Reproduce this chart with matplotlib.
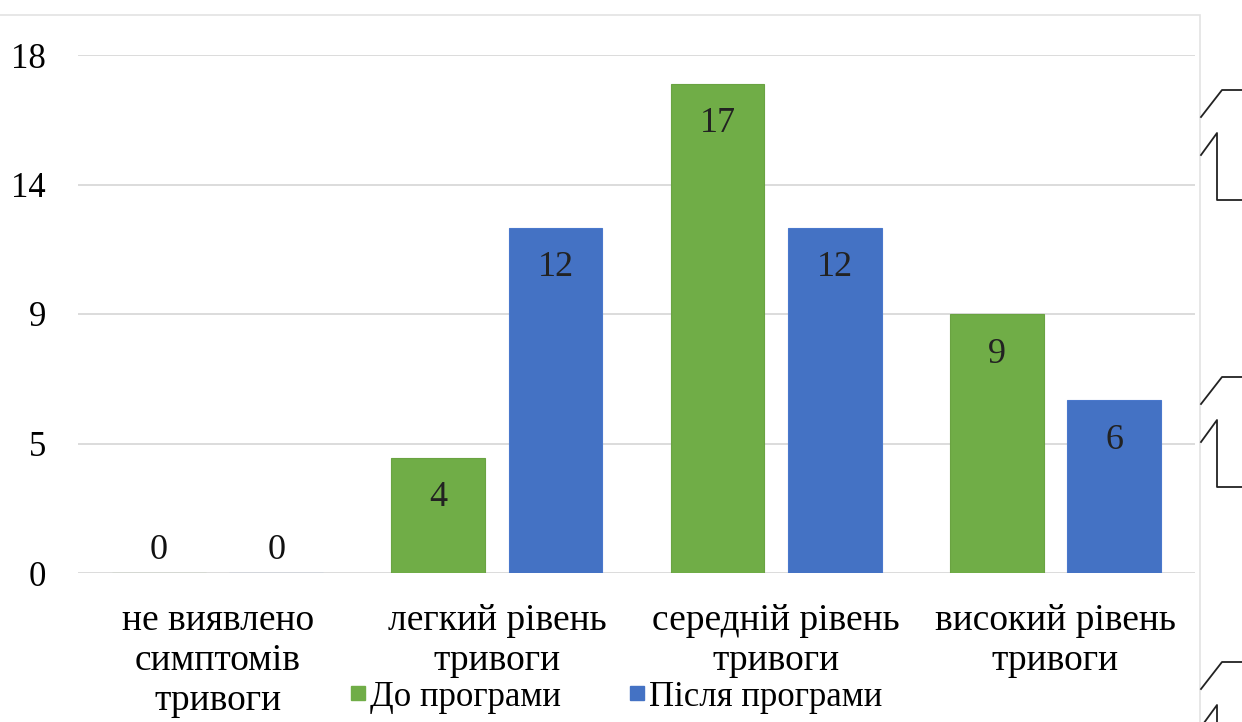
import numpy as np
import matplotlib
matplotlib.use("Agg")
import matplotlib.pyplot as plt
from matplotlib.lines import Line2D
from matplotlib.patches import Rectangle

plt.rcParams["font.family"] = ["Liberation Serif", "DejaVu Serif"]

categories = ["не виявлено\nсимптомів\nтривоги", "легкий рівень\nтривоги",
              "середній рівень\nтривоги", "високий рівень\nтривоги"]
before = [0, 4, 17, 9]
after = [0, 12, 12, 6]
series_names = ["До програми", "Після програми"]
y_ticks = [0, 4.5, 9, 13.5, 18]
y_labels = ["0", "5", "9", "14", "18"]

GREEN = "#70AD47"
BLUE = "#4472C4"

W, H = 1242, 722
fig = plt.figure(figsize=(W / 100, H / 100), dpi=100)
ax = fig.add_axes([78 / W, 1 - 573 / H, (1195 - 78) / W, (573 - 55) / H])

x = np.arange(len(categories))
bw = 0.335
off = 0.21
b1 = ax.bar(x - off, before, bw, color=GREEN, edgecolor="#6aa342", lw=0.8, zorder=3)
b2 = ax.bar(x + off, after, bw, color=BLUE, edgecolor="#4a78cc", lw=0.8, zorder=3)

# value labels: inside end, zeros just above the baseline
for bars, vals in ((b1, before), (b2, after)):
    for rect, v in zip(bars, vals):
        cx = rect.get_x() + rect.get_width() / 2
        if v == 0:
            ax.annotate(str(v), (cx, 0), xytext=(0, 4), textcoords="offset points",
                        ha="center", va="bottom", fontsize=26, color="#111111")
        else:
            ax.annotate(str(v), (cx, v), xytext=(0, -17), textcoords="offset points",
                        ha="center", va="top", fontsize=26, color="#222222")

ax.set_xlim(-0.5, len(categories) - 0.5)
ax.set_ylim(0, 18)
ax.set_yticks(y_ticks)
ax.set_yticklabels(y_labels, fontsize=25)
ax.set_xticks(x)
ax.set_xticklabels(categories, fontsize=27, linespacing=1.2, va="top")
ax.tick_params(axis="both", length=0)
ax.tick_params(axis="y", pad=23)
ax.tick_params(axis="x", pad=22)
ax.grid(axis="y", color="#d9d9d9", lw=1.3, zorder=0)
for s in ax.spines.values():
    s.set_visible(False)

# legend
handles = [Line2D([], [], marker="s", ls="", color=GREEN, markersize=10),
           Line2D([], [], marker="s", ls="", color=BLUE, markersize=10)]
fig.legend(handles, series_names, loc="center", bbox_to_anchor=(615 / W, 1 - 697 / H),
           ncol=2, frameon=False, fontsize=25, handletextpad=0.05, columnspacing=1.9,
           handlelength=0.6, borderpad=0, borderaxespad=0)

# chart area border
fig.add_artist(Rectangle((-0.05, -0.05), 1200 / W + 0.05, 1 - 15 / H + 0.05,
                         transform=fig.transFigure, fill=False, ec="#e3e3e3", lw=1.2))

# bracket marks at the right edge (page artefacts)
def bracket(y0):
    t = fig.transFigure
    pts1 = [(1201, y0 + 27), (1222, y0), (1242, y0)]
    pts2 = [(1201, y0 + 65), (1217, y0 + 43), (1217, y0 + 110), (1242, y0 + 110)]
    for pts in (pts1, pts2):
        xs = [p[0] / W for p in pts]
        ys = [1 - p[1] / H for p in pts]
        fig.add_artist(Line2D(xs, ys, transform=t, color="#222222", lw=1.3))

for y0 in (90, 377, 662):
    bracket(y0)

fig.savefig("out.png", dpi=100)
